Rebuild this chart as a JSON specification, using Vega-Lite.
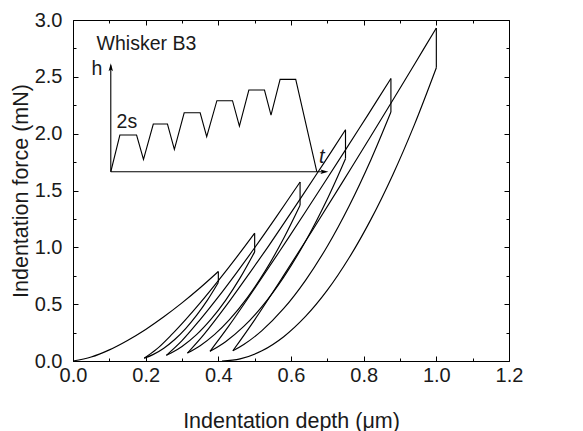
{
  "$schema": "https://vega.github.io/schema/vega-lite/v6.json",
  "width": 436,
  "height": 341,
  "autosize": {"type": "none"},
  "padding": {"left": 73, "top": 20, "right": 74, "bottom": 70},
  "config": {
    "view": {"stroke": "black", "strokeWidth": 1},
    "font": "Liberation Sans",
    "axis": {"labelFont": "Liberation Sans", "titleFont": "Liberation Sans", "labelColor": "#1a1a1a", "titleColor": "#1a1a1a", "titleFontWeight": "normal", "grid": false, "domain": false, "tickColor": "black", "tickWidth": 1}
  },
  "datasets": {
    "curves": [
      {"seg": "load0", "i": 0, "x": 0, "y": 0}, {"seg": "load0", "i": 1, "x": 0.05, "y": 0.035}, {"seg": "load0", "i": 2, "x": 0.1, "y": 0.098}, {"seg": "load0", "i": 3, "x": 0.15, "y": 0.181}, {"seg": "load0", "i": 4, "x": 0.2, "y": 0.278}, {"seg": "load0", "i": 5, "x": 0.25, "y": 0.389}, {"seg": "load0", "i": 6, "x": 0.3, "y": 0.511}, {"seg": "load0", "i": 7, "x": 0.35, "y": 0.644}, {"seg": "load0", "i": 8, "x": 0.4, "y": 0.787},
      {"seg": "hold1", "i": 0, "x": 0.4, "y": 0.787}, {"seg": "hold1", "i": 1, "x": 0.4, "y": 0.69},
      {"seg": "unload1", "i": 0, "x": 0.4, "y": 0.69}, {"seg": "unload1", "i": 1, "x": 0.37, "y": 0.535}, {"seg": "unload1", "i": 2, "x": 0.34, "y": 0.401}, {"seg": "unload1", "i": 3, "x": 0.31, "y": 0.285}, {"seg": "unload1", "i": 4, "x": 0.28, "y": 0.189}, {"seg": "unload1", "i": 5, "x": 0.25, "y": 0.113}, {"seg": "unload1", "i": 6, "x": 0.22, "y": 0.056}, {"seg": "unload1", "i": 7, "x": 0.196, "y": 0.025},
      {"seg": "reload1", "i": 0, "x": 0.196, "y": 0.025}, {"seg": "reload1", "i": 1, "x": 0.23, "y": 0.104}, {"seg": "reload1", "i": 2, "x": 0.27, "y": 0.227}, {"seg": "reload1", "i": 3, "x": 0.31, "y": 0.364}, {"seg": "reload1", "i": 4, "x": 0.35, "y": 0.511}, {"seg": "reload1", "i": 5, "x": 0.4, "y": 0.707}, {"seg": "reload1", "i": 6, "x": 0.45, "y": 0.912}, {"seg": "reload1", "i": 7, "x": 0.5, "y": 1.125},
      {"seg": "hold2", "i": 0, "x": 0.5, "y": 1.125}, {"seg": "hold2", "i": 1, "x": 0.5, "y": 0.96},
      {"seg": "unload2", "i": 0, "x": 0.5, "y": 0.96}, {"seg": "unload2", "i": 1, "x": 0.46, "y": 0.731}, {"seg": "unload2", "i": 2, "x": 0.42, "y": 0.534}, {"seg": "unload2", "i": 3, "x": 0.38, "y": 0.368}, {"seg": "unload2", "i": 4, "x": 0.34, "y": 0.232}, {"seg": "unload2", "i": 5, "x": 0.3, "y": 0.128}, {"seg": "unload2", "i": 6, "x": 0.27, "y": 0.07}, {"seg": "unload2", "i": 7, "x": 0.257, "y": 0.05},
      {"seg": "reload2", "i": 0, "x": 0.257, "y": 0.05}, {"seg": "reload2", "i": 1, "x": 0.3, "y": 0.179}, {"seg": "reload2", "i": 2, "x": 0.35, "y": 0.364}, {"seg": "reload2", "i": 3, "x": 0.4, "y": 0.564}, {"seg": "reload2", "i": 4, "x": 0.45, "y": 0.776}, {"seg": "reload2", "i": 5, "x": 0.5, "y": 0.996}, {"seg": "reload2", "i": 6, "x": 0.56, "y": 1.27}, {"seg": "reload2", "i": 7, "x": 0.625, "y": 1.575},
      {"seg": "hold3", "i": 0, "x": 0.625, "y": 1.575}, {"seg": "hold3", "i": 1, "x": 0.625, "y": 1.37},
      {"seg": "unload3", "i": 0, "x": 0.625, "y": 1.37}, {"seg": "unload3", "i": 1, "x": 0.58, "y": 1.08}, {"seg": "unload3", "i": 2, "x": 0.53, "y": 0.797}, {"seg": "unload3", "i": 3, "x": 0.48, "y": 0.558}, {"seg": "unload3", "i": 4, "x": 0.43, "y": 0.361}, {"seg": "unload3", "i": 5, "x": 0.39, "y": 0.234}, {"seg": "unload3", "i": 6, "x": 0.35, "y": 0.135}, {"seg": "unload3", "i": 7, "x": 0.315, "y": 0.07},
      {"seg": "reload3", "i": 0, "x": 0.315, "y": 0.07}, {"seg": "reload3", "i": 1, "x": 0.36, "y": 0.232}, {"seg": "reload3", "i": 2, "x": 0.42, "y": 0.48}, {"seg": "reload3", "i": 3, "x": 0.48, "y": 0.747}, {"seg": "reload3", "i": 4, "x": 0.54, "y": 1.02}, {"seg": "reload3", "i": 5, "x": 0.625, "y": 1.424}, {"seg": "reload3", "i": 6, "x": 0.69, "y": 1.739}, {"seg": "reload3", "i": 7, "x": 0.75, "y": 2.035},
      {"seg": "hold4", "i": 0, "x": 0.75, "y": 2.035}, {"seg": "hold4", "i": 1, "x": 0.75, "y": 1.78},
      {"seg": "unload4", "i": 0, "x": 0.75, "y": 1.78}, {"seg": "unload4", "i": 1, "x": 0.7, "y": 1.426}, {"seg": "unload4", "i": 2, "x": 0.64, "y": 1.054}, {"seg": "unload4", "i": 3, "x": 0.58, "y": 0.738}, {"seg": "unload4", "i": 4, "x": 0.52, "y": 0.478}, {"seg": "unload4", "i": 5, "x": 0.47, "y": 0.304}, {"seg": "unload4", "i": 6, "x": 0.42, "y": 0.17}, {"seg": "unload4", "i": 7, "x": 0.377, "y": 0.085},
      {"seg": "reload4", "i": 0, "x": 0.377, "y": 0.085}, {"seg": "reload4", "i": 1, "x": 0.43, "y": 0.313}, {"seg": "reload4", "i": 2, "x": 0.5, "y": 0.638}, {"seg": "reload4", "i": 3, "x": 0.57, "y": 0.972}, {"seg": "reload4", "i": 4, "x": 0.64, "y": 1.313}, {"seg": "reload4", "i": 5, "x": 0.75, "y": 1.857}, {"seg": "reload4", "i": 6, "x": 0.81, "y": 2.157}, {"seg": "reload4", "i": 7, "x": 0.875, "y": 2.485},
      {"seg": "hold5", "i": 0, "x": 0.875, "y": 2.485}, {"seg": "hold5", "i": 1, "x": 0.875, "y": 2.19},
      {"seg": "unload5", "i": 0, "x": 0.875, "y": 2.19}, {"seg": "unload5", "i": 1, "x": 0.82, "y": 1.771}, {"seg": "unload5", "i": 2, "x": 0.76, "y": 1.364}, {"seg": "unload5", "i": 3, "x": 0.7, "y": 1.01}, {"seg": "unload5", "i": 4, "x": 0.64, "y": 0.71}, {"seg": "unload5", "i": 5, "x": 0.58, "y": 0.462}, {"seg": "unload5", "i": 6, "x": 0.52, "y": 0.267}, {"seg": "unload5", "i": 7, "x": 0.47, "y": 0.145}, {"seg": "unload5", "i": 8, "x": 0.44, "y": 0.09},
      {"seg": "reload5", "i": 0, "x": 0.44, "y": 0.09}, {"seg": "reload5", "i": 1, "x": 0.5, "y": 0.362}, {"seg": "reload5", "i": 2, "x": 0.58, "y": 0.753}, {"seg": "reload5", "i": 3, "x": 0.66, "y": 1.155}, {"seg": "reload5", "i": 4, "x": 0.74, "y": 1.565}, {"seg": "reload5", "i": 5, "x": 0.82, "y": 1.98}, {"seg": "reload5", "i": 6, "x": 0.875, "y": 2.268}, {"seg": "reload5", "i": 7, "x": 0.94, "y": 2.611}, {"seg": "reload5", "i": 8, "x": 1.0, "y": 2.93},
      {"seg": "hold6", "i": 0, "x": 1.0, "y": 2.93}, {"seg": "hold6", "i": 1, "x": 1.0, "y": 2.58},
      {"seg": "unload6", "i": 0, "x": 1.0, "y": 2.58}, {"seg": "unload6", "i": 1, "x": 0.94, "y": 2.082}, {"seg": "unload6", "i": 2, "x": 0.88, "y": 1.637}, {"seg": "unload6", "i": 3, "x": 0.82, "y": 1.246}, {"seg": "unload6", "i": 4, "x": 0.76, "y": 0.908}, {"seg": "unload6", "i": 5, "x": 0.7, "y": 0.623}, {"seg": "unload6", "i": 6, "x": 0.64, "y": 0.392}, {"seg": "unload6", "i": 7, "x": 0.58, "y": 0.214}, {"seg": "unload6", "i": 8, "x": 0.52, "y": 0.09}, {"seg": "unload6", "i": 9, "x": 0.46, "y": 0.0185}, {"seg": "unload6", "i": 10, "x": 0.41, "y": 0}
    ],
    "inset": [
      {"seg": "vaxis", "i": 0, "x": 0.104, "y": 1.665}, {"seg": "vaxis", "i": 1, "x": 0.104, "y": 2.6},
      {"seg": "haxis", "i": 0, "x": 0.104, "y": 1.665}, {"seg": "haxis", "i": 1, "x": 0.69, "y": 1.665},
      {"seg": "profile", "i": 0, "x": 0.104, "y": 1.665}, {"seg": "profile", "i": 1, "x": 0.129, "y": 1.988}, {"seg": "profile", "i": 2, "x": 0.175, "y": 1.988}, {"seg": "profile", "i": 3, "x": 0.194, "y": 1.774}, {"seg": "profile", "i": 4, "x": 0.221, "y": 2.085}, {"seg": "profile", "i": 5, "x": 0.26, "y": 2.085}, {"seg": "profile", "i": 6, "x": 0.279, "y": 1.862}, {"seg": "profile", "i": 7, "x": 0.306, "y": 2.184}, {"seg": "profile", "i": 8, "x": 0.35, "y": 2.184}, {"seg": "profile", "i": 9, "x": 0.368, "y": 1.973}, {"seg": "profile", "i": 10, "x": 0.396, "y": 2.29}, {"seg": "profile", "i": 11, "x": 0.439, "y": 2.29}, {"seg": "profile", "i": 12, "x": 0.458, "y": 2.067}, {"seg": "profile", "i": 13, "x": 0.484, "y": 2.384}, {"seg": "profile", "i": 14, "x": 0.527, "y": 2.384}, {"seg": "profile", "i": 15, "x": 0.545, "y": 2.164}, {"seg": "profile", "i": 16, "x": 0.57, "y": 2.478}, {"seg": "profile", "i": 17, "x": 0.613, "y": 2.478}, {"seg": "profile", "i": 18, "x": 0.671, "y": 1.665}
    ],
    "uparrow": [{"x": 0.104, "y": 2.585}],
    "rightarrow": [{"x": 0.692, "y": 1.665}],
    "labels": [
      {"x": 0.065, "y": 2.736, "text": "Whisker B3"},
      {"x": 0.051, "y": 2.516, "text": "h"},
      {"x": 0.12, "y": 2.05, "text": "2s"}
    ],
    "tlabel": [{"x": 0.677, "y": 1.74, "text": "t"}]
  },
  "layer": [
    {
      "data": {"name": "uparrow"},
      "mark": {"type": "point", "shape": "M0,-1L-0.55,1L0,0.6L0.55,1Z", "filled": true, "color": "black", "size": 64, "opacity": 1},
      "encoding": {
        "x": {"field": "x", "type": "quantitative", "scale": {"domain": [0, 1.2], "nice": false, "zero": false},
          "axis": {"orient": "bottom", "title": null, "labels": false, "values": [0.1, 0.3, 0.5, 0.7, 0.9, 1.1], "tickSize": -3}},
        "y": {"field": "y", "type": "quantitative", "scale": {"domain": [0, 3], "nice": false, "zero": false},
          "axis": {"orient": "left", "title": null, "labels": false, "values": [0.25, 0.75, 1.25, 1.75, 2.25, 2.75], "tickSize": -3}}
      }
    },
    {
      "data": {"name": "rightarrow"},
      "mark": {"type": "point", "shape": "M1,0L-1,-0.55L-0.6,0L-1,0.55Z", "filled": true, "color": "black", "size": 64, "opacity": 1},
      "encoding": {
        "x": {"field": "x", "type": "quantitative", "scale": {"domain": [0, 1.2], "nice": false, "zero": false},
          "axis": {"orient": "top", "title": null, "labels": false, "values": [0.1, 0.3, 0.5, 0.7, 0.9, 1.1], "tickSize": -3}},
        "y": {"field": "y", "type": "quantitative", "scale": {"domain": [0, 3], "nice": false, "zero": false},
          "axis": {"orient": "right", "title": null, "labels": false, "values": [0.25, 0.75, 1.25, 1.75, 2.25, 2.75], "tickSize": -3}}
      }
    },
    {
      "data": {"name": "curves"},
      "mark": {"type": "line", "interpolate": "catmull-rom", "color": "black", "strokeWidth": 1.15},
      "encoding": {
        "x": {"field": "x", "type": "quantitative", "scale": {"domain": [0, 1.2], "nice": false, "zero": false},
          "axis": {"orient": "bottom", "title": "Indentation depth (μm)", "values": [0, 0.2, 0.4, 0.6, 0.8, 1.0, 1.2], "tickSize": -5, "format": ".1f",
            "labelFontSize": 20, "labelPadding": 9, "labelOverlap": false, "labelFlush": false, "titleFontSize": 21.5, "titlePadding": 25}},
        "y": {"field": "y", "type": "quantitative", "scale": {"domain": [0, 3], "nice": false, "zero": false},
          "axis": {"orient": "left", "title": "Indentation force (mN)", "values": [0, 0.5, 1.0, 1.5, 2.0, 2.5, 3.0], "tickSize": -5, "format": ".1f",
            "labelFontSize": 20, "labelPadding": 16, "labelOverlap": false, "labelFlush": false, "titleFontSize": 21.5, "titlePadding": 2}},
        "detail": {"field": "seg"},
        "order": {"field": "i", "type": "quantitative"}
      }
    },
    {
      "data": {"name": "inset"},
      "mark": {"type": "line", "color": "black", "strokeWidth": 1.1},
      "encoding": {
        "x": {"field": "x", "type": "quantitative", "scale": {"domain": [0, 1.2], "nice": false, "zero": false},
          "axis": {"orient": "top", "title": null, "labels": false, "values": [0, 0.2, 0.4, 0.6, 0.8, 1.0, 1.2], "tickSize": -5}},
        "y": {"field": "y", "type": "quantitative", "scale": {"domain": [0, 3], "nice": false, "zero": false},
          "axis": {"orient": "right", "title": null, "labels": false, "values": [0, 0.5, 1.0, 1.5, 2.0, 2.5, 3.0], "tickSize": -5}},
        "detail": {"field": "seg"},
        "order": {"field": "i", "type": "quantitative"}
      }
    },
    {
      "data": {"name": "labels"},
      "mark": {"type": "text", "align": "left", "baseline": "alphabetic", "fontSize": 19.5, "font": "Liberation Sans", "color": "#1a1a1a"},
      "encoding": {
        "x": {"field": "x", "type": "quantitative", "axis": null},
        "y": {"field": "y", "type": "quantitative", "axis": null},
        "text": {"field": "text"}
      }
    },
    {
      "data": {"name": "tlabel"},
      "mark": {"type": "text", "align": "left", "baseline": "alphabetic", "fontSize": 20, "fontStyle": "italic", "font": "Liberation Sans", "color": "#1a1a1a"},
      "encoding": {
        "x": {"field": "x", "type": "quantitative", "axis": null},
        "y": {"field": "y", "type": "quantitative", "axis": null},
        "text": {"field": "text"}
      }
    }
  ],
  "resolve": {"axis": {"x": "independent", "y": "independent"}}
}
